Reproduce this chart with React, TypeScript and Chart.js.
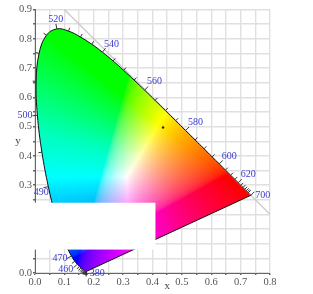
import { useEffect, useRef } from "react";
import { Chart, registerables } from "chart.js";

Chart.register(...registerables);

const wavelengths = [380,385,390,395,400,405,410,415,420,425,430,435,440,445,450,455,460,465,470,475,480,485,490,495,500,505,510,515,520,525,530,535,540,545,550,555,560,565,570,575,580,585,590,595,600,605,610,615,620,625,630,635,640,645,650,655,660,665,670,675,680,685,690,695,700];
const locusX = [.1741,.1740,.1738,.1736,.1733,.1730,.1726,.1721,.1714,.1703,.1689,.1669,.1644,.1611,.1566,.1510,.1440,.1355,.1241,.1096,.0913,.0687,.0454,.0235,.0082,.0039,.0139,.0389,.0743,.1142,.1547,.1929,.2296,.2658,.3016,.3373,.3731,.4087,.4441,.4788,.5125,.5448,.5752,.6029,.6270,.6482,.6658,.6801,.6915,.7006,.7079,.7140,.7190,.7230,.7260,.7283,.7300,.7311,.7320,.7327,.7334,.7340,.7344,.7346,.7347];
const locusY = [.0050,.0050,.0049,.0049,.0048,.0048,.0048,.0048,.0051,.0058,.0069,.0086,.0109,.0138,.0177,.0227,.0297,.0399,.0578,.0868,.1327,.2007,.2950,.4127,.5384,.6548,.7502,.8120,.8338,.8262,.8059,.7816,.7543,.7243,.6923,.6589,.6245,.5896,.5547,.5202,.4866,.4544,.4242,.3965,.3725,.3514,.3340,.3197,.3083,.2993,.2920,.2859,.2809,.2770,.2740,.2717,.2700,.2689,.2680,.2673,.2666,.2660,.2656,.2654,.2653];
const labelledWavelengths = [380,460,470,490,500,520,540,560,580,600,620,700];
const whitePoint = [0.436, 0.497];
const diagonalX = [0.1, 0.8];
const diagonalY = [0.9, 0.2];
const xTitle = "x";
const yTitle = "y";

// pixel offset of each wavelength label from its point on the curve
const labelOffset: Record<number, [number, number]> = {
  380: [11, 2], 460: [-11.5, 4.7], 470: [-11.5, 2], 490: [-7, 6], 500: [-12.5, 0.5],
  520: [-1, -10], 540: [9, -8], 560: [10, -9], 580: [10, -8], 600: [10, -8],
  620: [10, -8], 700: [12, 0],
};

function gamma(c: number) {
  return c <= 0.0031308 ? 12.92 * c : 1.055 * Math.pow(c, 1 / 2.4) - 0.055;
}
// the blue channel of the source image stays low where blue is faint
function gammaBlue(c: number) {
  return Math.pow(c, 0.7 - 0.3 * Math.min(c / 0.5, 1));
}
function chroma(x: number, y: number): [number, number, number] {
  const X = x / y, Y = 1, Z = (1 - x - y) / y;
  let r = 3.2406 * X - 1.5372 * Y - 0.4986 * Z;
  let g = -0.9689 * X + 1.8758 * Y + 0.0415 * Z;
  let b = 0.0557 * X - 0.204 * Y + 1.057 * Z;
  r = Math.max(r, 0); g = Math.max(g, 0); b = Math.max(b, 0);
  const m = Math.max(r, g, b) || 1;
  return [gamma(r / m) * 255, gamma(g / m) * 255, gammaBlue(b / m) * 255];
}

const gamutPlugin = {
  id: "gamut",
  beforeDatasetsDraw(chart: any) {
    const { ctx, chartArea: a, scales } = chart;
    const sx = scales.x, sy = scales.y;
    const w = Math.ceil(a.width), h = Math.ceil(a.height);
    const off = document.createElement("canvas");
    off.width = w; off.height = h;
    const oc = off.getContext("2d")!;
    const img = oc.createImageData(w, h);
    for (let j = 0; j < h; j++) {
      const y = sy.getValueForPixel(a.top + j + 0.5);
      for (let i = 0; i < w; i++) {
        const x = sx.getValueForPixel(a.left + i + 0.5);
        const k = (j * w + i) * 4;
        if (y <= 0.001) continue;
        const [r, g, b] = chroma(x, y);
        img.data[k] = r; img.data[k + 1] = g; img.data[k + 2] = b; img.data[k + 3] = 255;
      }
    }
    oc.putImageData(img, 0, 0);
    const line = chart.getDatasetMeta(1).dataset;
    line.updateControlPoints(a);
    ctx.save();
    ctx.beginPath();
    line.path(ctx);
    ctx.closePath();
    ctx.clip();
    ctx.drawImage(off, a.left, a.top);
    ctx.restore();
  },
  afterDatasetsDraw(chart: any) {
    const { ctx, scales } = chart;
    const sx = scales.x, sy = scales.y;
    const cx = sx.getPixelForValue(0.33), cy = sy.getPixelForValue(0.33);
    ctx.save();
    // wavelength ticks, pointing away from the white centre along the curve normal
    wavelengths.forEach((wl, i) => {
      if (wl > 650 && wl !== 700) return;
      const prev = Math.max(i - 1, 0), next = Math.min(i + 1, wavelengths.length - 1);
      const px = sx.getPixelForValue(locusX[i]), py = sy.getPixelForValue(locusY[i]);
      const dx = sx.getPixelForValue(locusX[next]) - sx.getPixelForValue(locusX[prev]);
      const dy = sy.getPixelForValue(locusY[next]) - sy.getPixelForValue(locusY[prev]);
      const len = Math.hypot(dx, dy) || 1;
      let nx = -dy / len, ny = dx / len;
      if (nx * (px - cx) + ny * (py - cy) < 0) { nx = -nx; ny = -ny; }
      const t = labelledWavelengths.includes(wl) ? 5 : 3.5;
      ctx.strokeStyle = "#333";
      ctx.lineWidth = 1;
      ctx.beginPath();
      ctx.moveTo(px, py);
      ctx.lineTo(px + nx * t, py + ny * t);
      ctx.stroke();
    });
    ctx.font = "10px 'Liberation Serif'";
    ctx.textAlign = "center";
    ctx.textBaseline = "middle";
    ctx.fillStyle = "#3a3ad0";
    labelledWavelengths.forEach((wl) => {
      const i = wavelengths.indexOf(wl);
      const [ox, oy] = labelOffset[wl];
      ctx.fillText(String(wl), sx.getPixelForValue(locusX[i]) + ox, sy.getPixelForValue(locusY[i]) + oy);
    });
    // covering panel, as in the source picture
    ctx.fillStyle = "#fff";
    const right = sx.getPixelForValue(0.41);
    const top = sy.getPixelForValue(0.24), bottom = sy.getPixelForValue(0.08);
    ctx.fillRect(0, top, right, bottom - top);
    ctx.font = "11px 'Liberation Serif'";
    ctx.fillStyle = "#444";
    ctx.fillText(xTitle, sx.getPixelForValue(0.45), chart.chartArea.bottom + 13);
    ctx.fillText(yTitle, 18, sy.getPixelForValue(0.452));
    ctx.restore();
  },
};

export default function App() {
  const ref = useRef<HTMLCanvasElement>(null);
  useEffect(() => {
    const tick = (v: any) => {
      const n = Math.round(Number(v) * 100);
      return n % 10 === 0 ? (n / 100).toFixed(1) : "";
    };
    const font = { family: "'Liberation Serif'", size: 10.5 };
    const chart = new Chart(ref.current!, {
      type: "scatter",
      data: {
        datasets: [
          {
            data: diagonalX.map((x, i) => ({ x, y: diagonalY[i] })),
            showLine: true, borderColor: "#c8c8c8", borderWidth: 1.2, pointRadius: 0, order: 4,
          },
          {
            data: locusX.map((x, i) => ({ x, y: locusY[i] })),
            showLine: true, tension: 0.4, borderColor: "#111", borderWidth: 1, pointRadius: 0, order: 2,
          },
          {
            data: [
              { x: locusX[locusX.length - 1], y: locusY[locusY.length - 1] },
              { x: locusX[0], y: locusY[0] },
            ],
            showLine: true, borderColor: "#111", borderWidth: 1, pointRadius: 0, order: 3,
          },
          {
            data: [{ x: whitePoint[0], y: whitePoint[1] }],
            backgroundColor: "#222", pointRadius: 1.2, borderWidth: 0, order: 1,
          },
        ],
      },
      options: {
        responsive: false,
        animation: false,
        layout: { padding: { left: 0, right: 43, top: 9.5, bottom: 0 } },
        plugins: { legend: { display: false }, tooltip: { enabled: false } },
        scales: {
          x: {
            type: "linear", min: 0, max: 0.8,
            afterFit: (s: any) => { s.height = 21; },
            ticks: { stepSize: 0.05, autoSkip: false, maxRotation: 0, callback: tick, color: "#555", font, padding: 1 },
            grid: { color: "#e0e0e0", lineWidth: 1.4, tickLength: 2, tickColor: "#666" },
            border: { color: "#666", width: 1 },
          },
          y: {
            type: "linear", min: 0, max: 0.9,
            afterFit: (s: any) => { s.width = 35; },
            ticks: { stepSize: 0.05, autoSkip: false, callback: tick, color: "#555", font, padding: 1 },
            grid: { color: "#e0e0e0", lineWidth: 1.4, tickLength: 2, tickColor: "#666" },
            border: { color: "#666", width: 1 },
          },
        },
      },
      plugins: [gamutPlugin],
    } as any);
    return () => chart.destroy();
  }, []);
  return (
    <div style={{ position: "fixed", left: 0, top: 0, width: 313, height: 294, background: "#fff" }}>
      <canvas ref={ref} width={313} height={294} style={{ display: "block", filter: "blur(0.5px)" }} />
    </div>
  );
}
